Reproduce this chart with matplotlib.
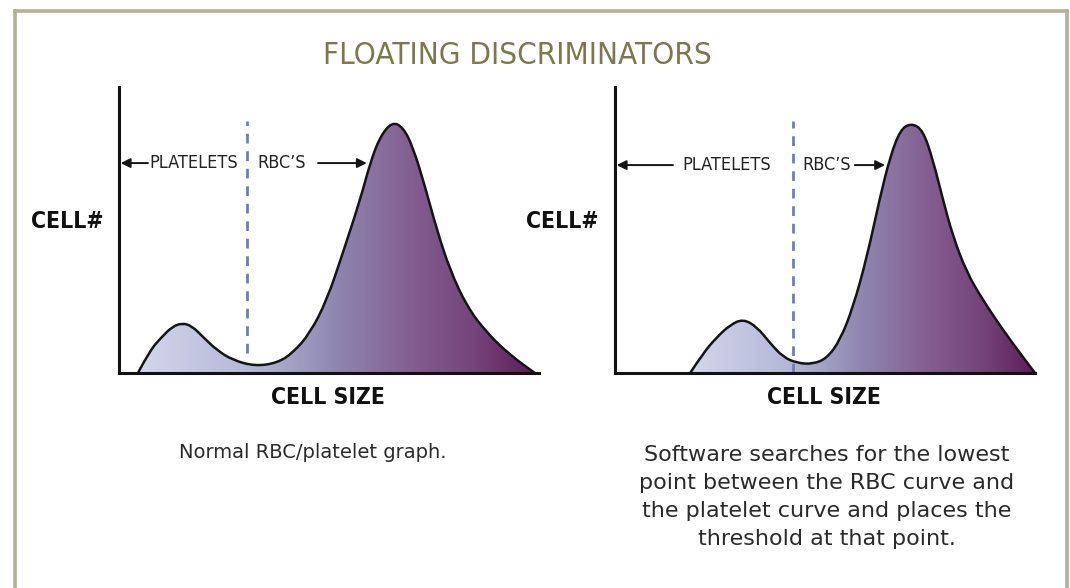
import numpy as np
import matplotlib
matplotlib.use("Agg")
from matplotlib import pyplot as plt
from matplotlib.colors import LinearSegmentedColormap
from matplotlib.lines import Line2D
from matplotlib.path import Path
from matplotlib.patches import PathPatch

# cell size (0-100) vs cell count (0-100)
left_size = [4.5, 7.4, 10.2, 12.6, 15.0, 17.4, 20.0, 23.3, 27.1, 32.4, 37.6, 41.4,
             45.5, 49.5, 53.3, 57.4, 59.8, 62.1, 65.0, 67.6, 70.0, 72.9, 75.7,
             78.8, 82.9, 87.6, 93.1, 99.0]
left_count = [0.0, 8.0, 12.6, 16.1, 17.5, 16.4, 12.6, 8.0, 4.5, 2.4, 3.5, 7.0,
              14.0, 25.5, 42.0, 60.5, 73.4, 82.5, 87.8, 86.0, 79.0, 65.0, 50.0,
              36.0, 23.1, 14.0, 6.3, 0.0]
left_threshold = 30.5

right_size = [17.9, 21.0, 24.3, 27.4, 30.5, 33.8, 36.9, 40.0, 43.3, 47.1, 50.5,
              53.6, 56.7, 60.0, 63.1, 65.5, 67.9, 70.5, 73.3, 75.7, 78.1, 80.5,
              83.8, 87.6, 92.4, 96.4, 100.0]
right_count = [0.0, 7.0, 12.6, 16.8, 18.9, 16.1, 10.5, 5.6, 3.5, 3.1, 5.2,
               11.5, 23.1, 40.6, 61.5, 75.5, 85.0, 87.4, 85.0, 74.5, 60.5, 47.6,
               35.0, 25.5, 15.0, 7.0, 0.0]
right_threshold = 42.4

title = "FLOATING DISCRIMINATORS"
left_caption = "Normal RBC/platelet graph."
right_caption = ("Software searches for the lowest\n"
                 "point between the RBC curve and\n"
                 "the platelet curve and places the\n"
                 "threshold at that point.")

fill_cmap = LinearSegmentedColormap.from_list("cells", [
    (0.00, "#d4d6ea"), (0.30, "#b2b5d6"), (0.50, "#8e86b0"),
    (0.70, "#835c8f"), (0.85, "#74447a"), (1.00, "#5e1d58")])

W, H = 1070, 588
fig = plt.figure(figsize=(W / 100, H / 100), dpi=100)


def curve_path(xs, ys, closed=False):
    # quadratic bezier through midpoints, so the outline draws smooth
    pts = list(zip(xs, ys))
    verts = [pts[0]]
    codes = [Path.MOVETO]
    for i in range(1, len(pts) - 1):
        mid = ((pts[i][0] + pts[i + 1][0]) / 2, (pts[i][1] + pts[i + 1][1]) / 2)
        verts += [pts[i], mid]
        codes += [Path.CURVE3, Path.CURVE3]
    verts.append(pts[-1])
    codes.append(Path.LINETO)
    if closed:
        verts += [(xs[0], 0), (xs[0], 0)]
        codes += [Path.LINETO, Path.CLOSEPOLY]
    return Path(verts, codes)


def draw_panel(left_px, size, count, threshold, dash_bottom, arrow_y,
               plate_x, rbc_x, left_tail, right_arrow):
    ax = fig.add_axes([left_px / W, (H - 373) / H, 420 / W, 286 / H])
    ax.set_xlim(0, 100)
    ax.set_ylim(0, 100)
    for s in ["top", "right"]:
        ax.spines[s].set_visible(False)
    for s in ["left", "bottom"]:
        ax.spines[s].set_linewidth(2.2)
        ax.spines[s].set_color("#111111")
        ax.spines[s].set_zorder(5)
    ax.set_xticks([])
    ax.set_yticks([])
    ax.patch.set_alpha(0)

    grad = np.linspace(0, 1, 256).reshape(1, -1)
    img = ax.imshow(grad, extent=[size[0], size[-1], 0, 100], aspect="auto",
                    cmap=fill_cmap, origin="lower", zorder=1)
    img.set_clip_path(curve_path(size, count, closed=True), transform=ax.transData)
    ax.add_patch(PathPatch(curve_path(size, count), facecolor="none",
                           edgecolor="#151515", lw=1.8, zorder=3,
                           joinstyle="round", clip_on=False))

    ax.plot([threshold, threshold], [dash_bottom, 88], color="#6f7db5",
            lw=2.0, ls=(0, (3.5, 2.8)), zorder=4)

    ap = dict(arrowstyle="-|>", color="#151515", lw=1.4, mutation_scale=14,
              shrinkA=0, shrinkB=0)
    ax.annotate("", xy=(0.4, arrow_y), xytext=(left_tail, arrow_y), arrowprops=ap)
    ax.annotate("", xy=(right_arrow[1], arrow_y), xytext=(right_arrow[0], arrow_y),
                arrowprops=ap)
    ax.text(plate_x, arrow_y, "PLATELETS", ha="center", va="center",
            fontsize=13, color="#222222", stretch="condensed")
    ax.text(rbc_x, arrow_y, "RBC\u2019S", ha="center", va="center",
            fontsize=13, color="#222222", stretch="condensed")
    return ax


draw_panel(119, left_size, left_count, left_threshold, 7, 73.4,
           17.9, 38.8, 6.9, (47.4, 59.0))
draw_panel(615, right_size, right_count, right_threshold, 0, 72.7,
           26.7, 50.5, 13.8, (57.1, 64.3))

# frame round the figure, open at the bottom
frame_col = "#b3b191"
fig.add_artist(Line2D([15 / W, 15 / W], [0, 1 - 11 / H], color=frame_col, lw=2.6))
fig.add_artist(Line2D([15 / W, 1067 / W], [1 - 11 / H, 1 - 11 / H], color=frame_col, lw=2.6))
fig.add_artist(Line2D([1067 / W, 1067 / W], [0, 1 - 11 / H], color=frame_col, lw=2.6))

fig.text(517 / W, 1 - 55 / H, title, ha="center", va="center", fontsize=22.5,
         color="#7d784b", stretch="condensed")

for cx in [67, 562]:
    fig.text(cx / W, 1 - 222 / H, "CELL#", ha="center", va="center",
             fontsize=16.5, weight="bold", color="#111111", stretch="condensed")
for cx in [328, 824]:
    fig.text(cx / W, 1 - 397 / H, "CELL SIZE", ha="center", va="center",
             fontsize=16.5, weight="bold", color="#111111", stretch="condensed")

fig.text(313 / W, 1 - 452 / H, left_caption, ha="center", va="center",
         fontsize=14, color="#2a2a2a")
fig.text(827 / W, 1 - 497 / H, right_caption, ha="center", va="center",
         fontsize=16, color="#2a2a2a", linespacing=1.48)

fig.savefig("out.png", dpi=100)
